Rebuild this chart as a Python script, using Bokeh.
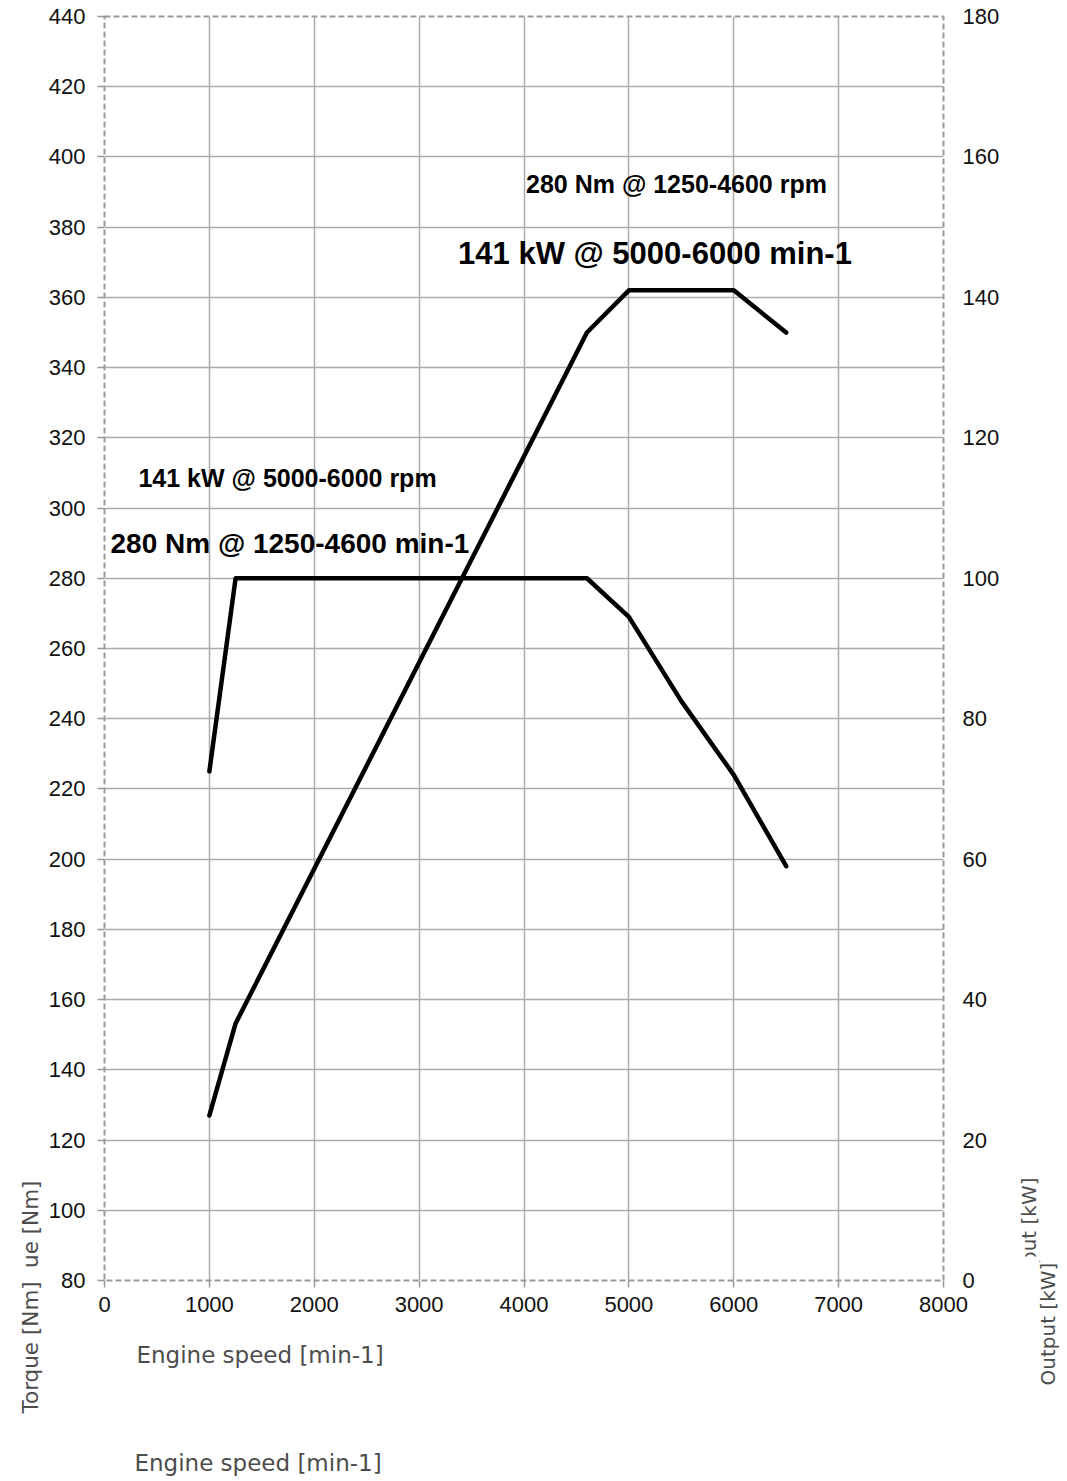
from math import pi
from bokeh.plotting import figure
from bokeh.models import Range1d, LinearAxis, Label, FixedTicker
from bokeh.layouts import row, column
from bokeh.core.properties import value
from bokeh.embed import file_html
from bokeh.resources import INLINE

# ---- data ----
rpm_torque = [1000, 1250, 4600, 5000, 5500, 6000, 6500]
torque_nm = [225, 280, 280, 269, 245, 224, 198]
rpm_power = [1000, 1250, 4600, 5000, 6000, 6500]
power_kw = [23.5, 36.6, 135, 141, 141, 135]
x_ticks = list(range(0, 8001, 1000))
torque_ticks = list(range(80, 441, 20))
power_ticks = list(range(0, 181, 20))

annotations = ["280 Nm @ 1250-4600 rpm", "141 kW @ 5000-6000 min-1",
               "141 kW @ 5000-6000 rpm", "280 Nm @ 1250-4600 min-1"]
x_title = "Engine speed [min-1]"
y_title = "Torque [Nm]"
y2_title = "Output [kW]"

X0, X1 = 0, 8000
T0, T1 = 80, 440
P0, P1 = 0, 180

TOTAL_W, TOTAL_H = 1060, 1481
LEFT_W = 45
RIGHT_X = 1005
MAIN_W = RIGHT_X - LEFT_W
MAIN_H = 1330
FRAME_L, FRAME_R, FRAME_T, FRAME_B = 103, 943, 16, 1280

p = figure(width=MAIN_W, height=MAIN_H, output_backend="svg", toolbar_location=None,
           x_range=Range1d(X0, X1), y_range=Range1d(T0, T1),
           min_border_left=FRAME_L - LEFT_W, min_border_right=RIGHT_X - FRAME_R,
           min_border_top=FRAME_T, min_border_bottom=MAIN_H - FRAME_B)
p.extra_y_ranges = {"power": Range1d(P0, P1)}

p.outline_line_color = "#999999"
p.outline_line_width = 2
p.outline_line_dash = "6 3"
p.background_fill_color = "white"
p.border_fill_color = "white"

for g in (p.xgrid, p.ygrid):
    g.grid_line_color = "#ababab"
    g.grid_line_width = 1.5
p.xgrid.ticker = FixedTicker(ticks=x_ticks)
p.ygrid.ticker = FixedTicker(ticks=torque_ticks)

def style_axis(ax, tick_out=7, standoff=12):
    ax.axis_line_color = None
    ax.major_tick_line_color = "#999999"
    ax.major_tick_line_width = 1.5
    ax.major_tick_out = tick_out
    ax.major_tick_in = 0
    ax.minor_tick_line_color = None
    ax.major_label_text_font = "Liberation Sans"
    ax.major_label_text_font_size = "22px"
    ax.major_label_text_color = "#111111"
    ax.major_label_standoff = standoff

p.xaxis.ticker = FixedTicker(ticks=x_ticks)
p.yaxis.ticker = FixedTicker(ticks=torque_ticks)
style_axis(p.xaxis[0], 7, 9)
style_axis(p.yaxis[0], 7, 12)

rax = LinearAxis(y_range_name="power", ticker=FixedTicker(ticks=power_ticks))
style_axis(rax, 0, 19)
p.add_layout(rax, "right")

p.line(rpm_torque, torque_nm, line_color="black", line_width=4.5, line_join="round", line_cap="round")
p.line(rpm_power, power_kw, y_range_name="power", line_color="black", line_width=4.5,
       line_join="round", line_cap="round")

def dx(px):
    return (px - FRAME_L) / (FRAME_R - FRAME_L) * (X1 - X0) + X0

def dy(py):
    return T1 - (py - FRAME_T) / (FRAME_B - FRAME_T) * (T1 - T0)

def lab(text, px, py, size):
    p.add_layout(Label(x=dx(px), y=dy(py), text=text, text_font="Liberation Sans",
                       text_font_size=f"{size}px", text_font_style="bold",
                       text_color="black", text_align="left", text_baseline="middle"))

lab(annotations[0], 525, 183, 25)
lab(annotations[1], 457, 253, 31)
lab(annotations[2], 137, 477, 25)
lab(annotations[3], 109, 543, 28)

# ---- side panels for the axis titles (page-pixel coordinates) ----
TITLE_FONT = value("DejaVu Sans")
TITLE_COLOR = "#4d4d4d"

def text_fig(w, h, bl=0, br=0):
    fw = w - bl - br
    f = figure(width=w, height=h, x_range=Range1d(0, fw), y_range=Range1d(0, h),
               x_axis_type=None, y_axis_type=None, output_backend="svg",
               toolbar_location=None, min_border=0,
               min_border_left=bl, min_border_right=br)
    f.outline_line_color = None
    f.background_fill_color = "white"
    f.border_fill_color = "white"
    return f

def ptext(f, x0, y0, h, text, px, py, size, align="left", angle=0):
    f.text(x=[px - x0], y=[h - (py - y0)], text=[text], text_font=TITLE_FONT,
           text_font_size=f"{size}px", text_color=TITLE_COLOR, text_align=align,
           text_baseline="middle", angle=angle)

def pquad(f, x0, y0, h, l, r, t, b):
    f.quad(left=[l - x0], right=[r - x0], top=[h - (t - y0)], bottom=[h - (b - y0)],
           fill_color="white", line_color=None)

left = text_fig(LEFT_W, TOTAL_H)
ptext(left, 0, 0, TOTAL_H, y_title, 30, 1180, 21.5, align="right", angle=pi / 2)
pquad(left, 0, 0, TOTAL_H, 6, 44, 1267, 1425)
ptext(left, 0, 0, TOTAL_H, y_title, 30, 1413, 21.5, align="left", angle=pi / 2)

RIGHT_W = TOTAL_W - RIGHT_X
right = text_fig(RIGHT_W, TOTAL_H)
ptext(right, RIGHT_X, 0, TOTAL_H, y2_title, 1028, 1177, 20, align="right", angle=pi / 2)
pquad(right, RIGHT_X, 0, TOTAL_H, 1012, 1039, 1256, 1400)
ptext(right, RIGHT_X, 0, TOTAL_H, y2_title, 1047, 1385, 20, align="left", angle=pi / 2)

BOT_H = TOTAL_H - MAIN_H
bottom = text_fig(MAIN_W, BOT_H, bl=FRAME_L - LEFT_W, br=RIGHT_X - FRAME_R)
ptext(bottom, FRAME_L, MAIN_H, BOT_H, x_title, 135, 1354, 23)
ptext(bottom, FRAME_L, MAIN_H, BOT_H, x_title, 133, 1462, 23)

layout = row(left, column(p, bottom), right)
open("out.html", "w").write(file_html(layout, INLINE))
